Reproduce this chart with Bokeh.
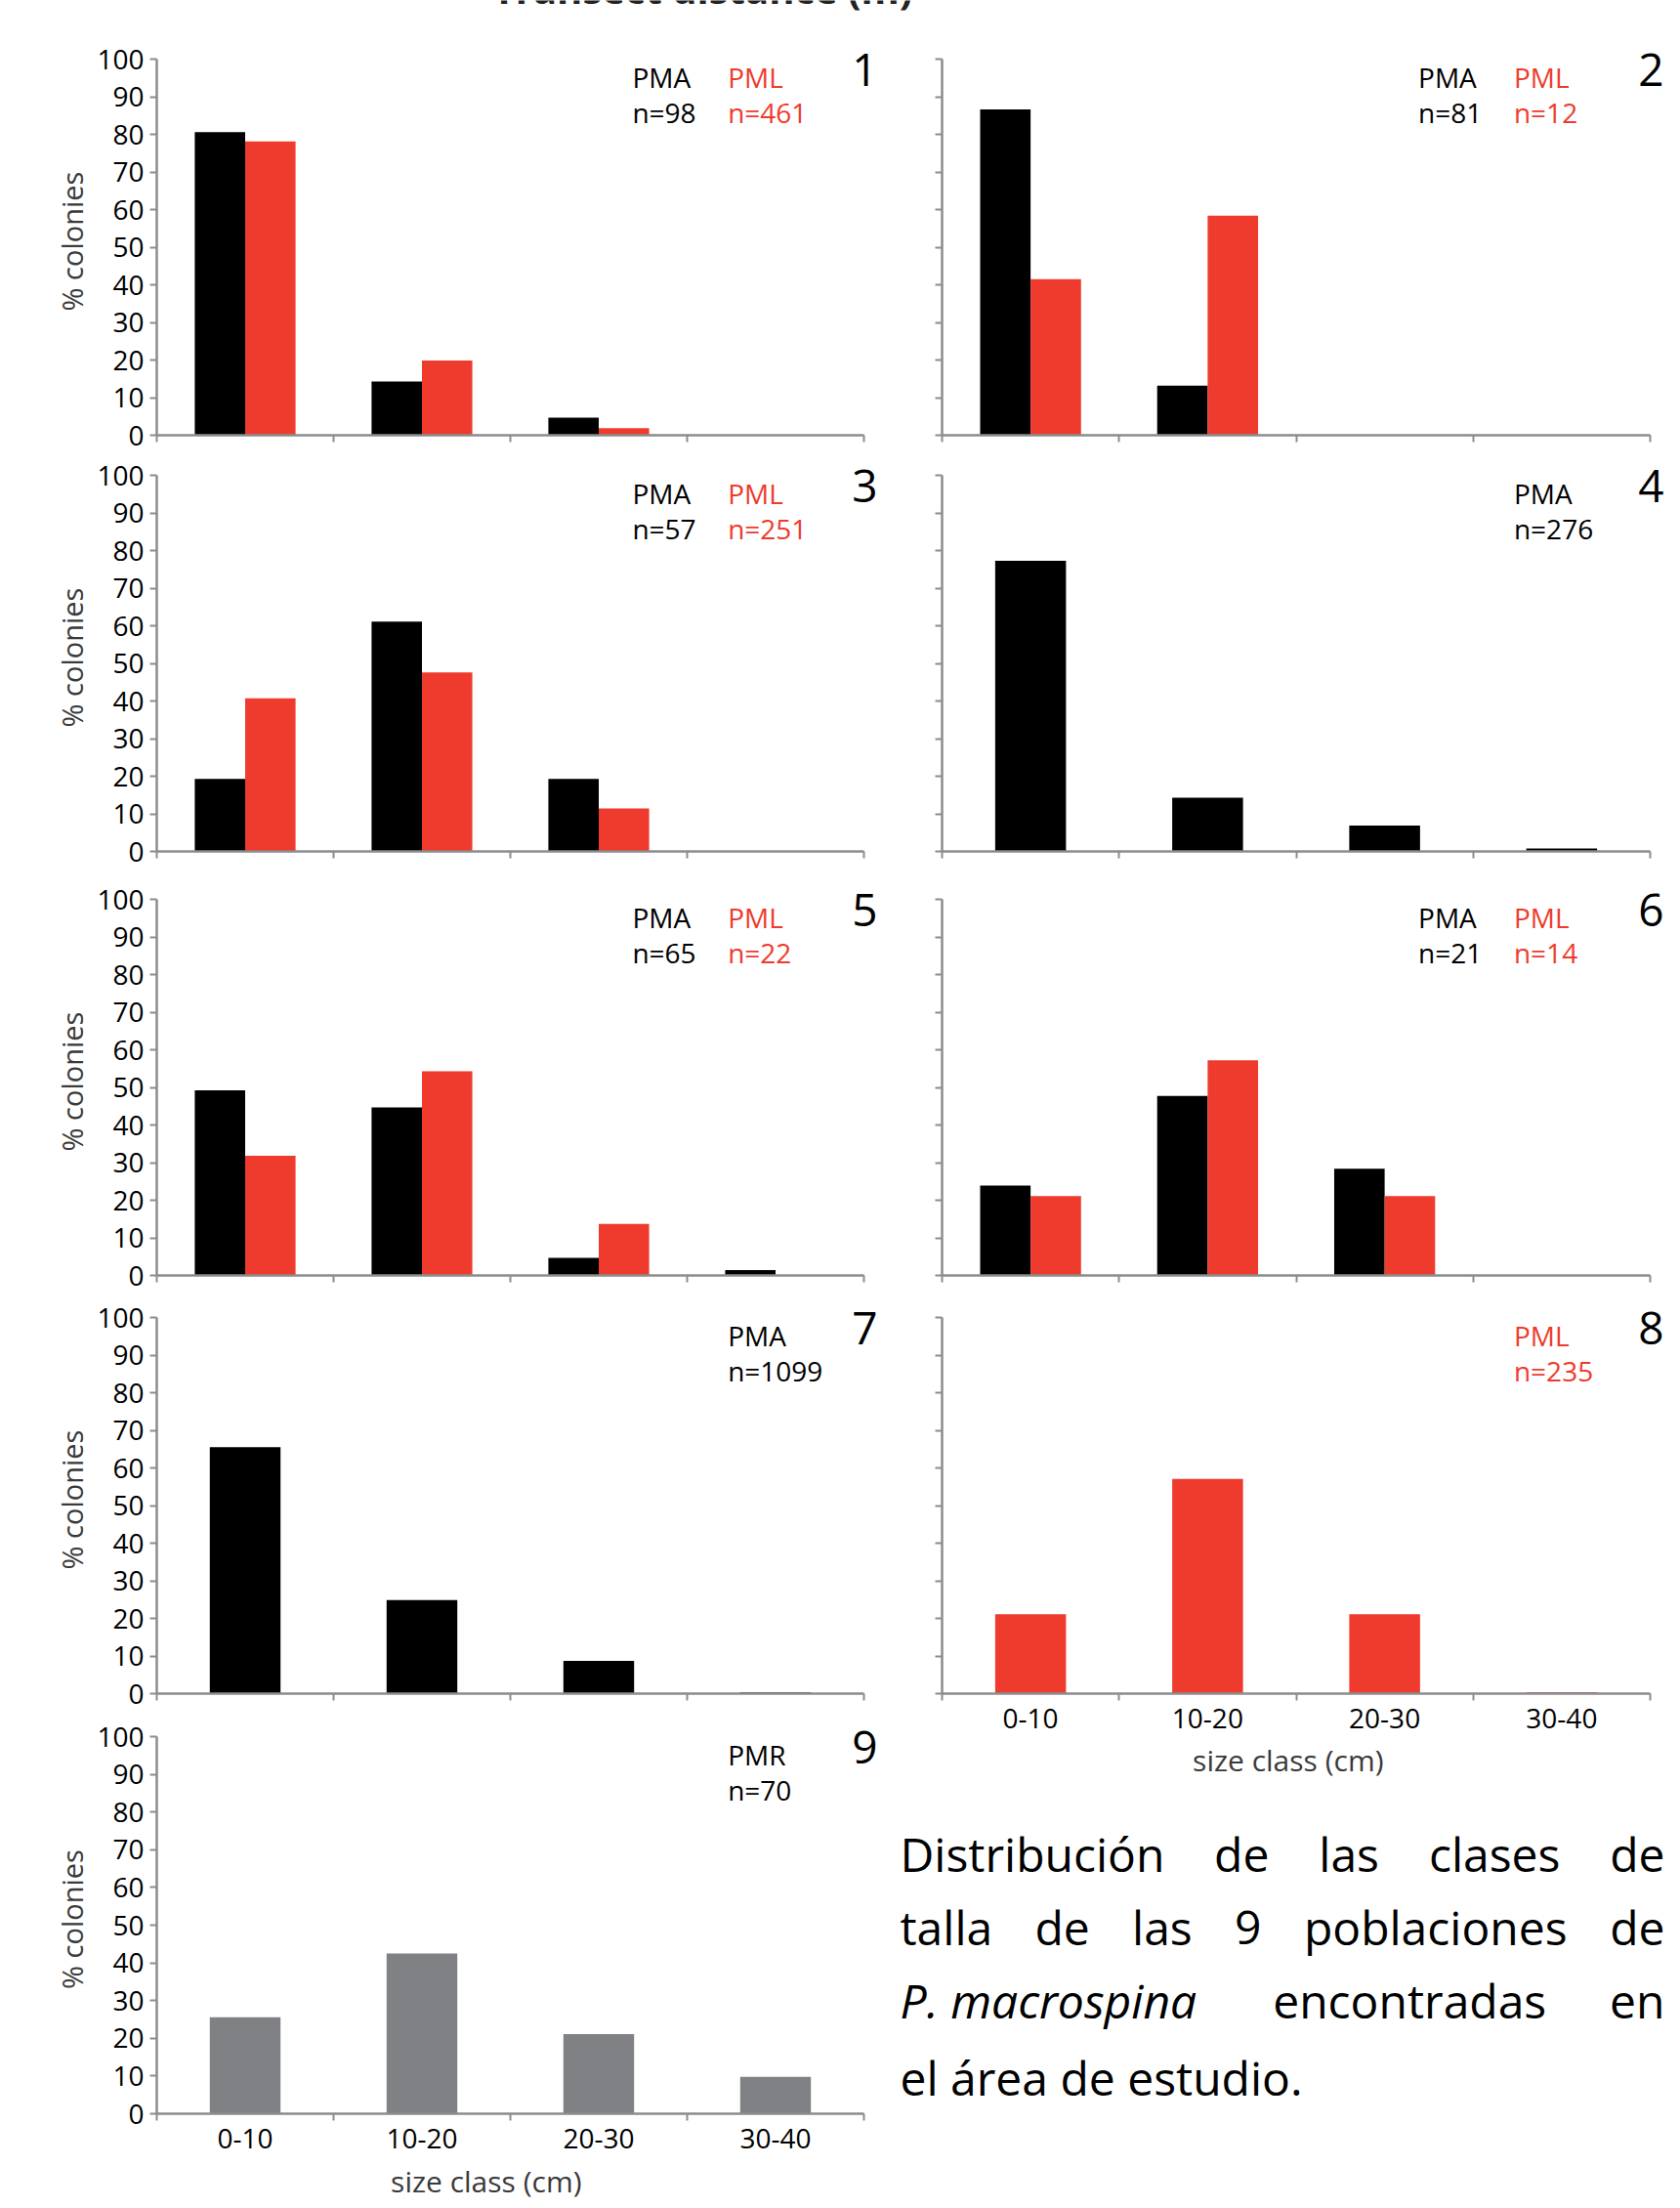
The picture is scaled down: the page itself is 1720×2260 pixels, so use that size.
import numpy as np
from bokeh.plotting import figure
from bokeh.models import Range1d, LinearAxis, FixedTicker, Label, ColumnDataSource, Title
from bokeh.layouts import row, column
from bokeh.transform import dodge
from bokeh.embed import file_html
from bokeh.resources import INLINE

# ---------------- data ----------------
size_classes = ["0-10", "10-20", "20-30", "30-40"]
y_ticks = [0, 10, 20, 30, 40, 50, 60, 70, 80, 90, 100]

p1_pma = [80.6, 14.3, 4.7, 0.0]
p1_pml = [78.1, 19.9, 1.9, 0.0]
p2_pma = [86.6, 13.2, 0.0, 0.0]
p2_pml = [41.5, 58.4, 0.0, 0.0]
p3_pma = [19.3, 61.1, 19.3, 0.0]
p3_pml = [40.7, 47.6, 11.4, 0.0]
p4_pma = [77.3, 14.3, 6.9, 0.8]
p5_pma = [49.2, 44.7, 4.7, 1.4]
p5_pml = [31.8, 54.3, 13.7, 0.0]
p6_pma = [23.9, 47.7, 28.4, 0.0]
p6_pml = [21.1, 57.2, 21.1, 0.0]
p7_pma = [65.5, 24.9, 8.7, 0.3]
p8_pml = [21.1, 57.1, 21.1, 0.4]
p9_pmr = [25.6, 42.5, 21.1, 9.8]

n_labels = {1: ("n=98", "n=461"), 2: ("n=81", "n=12"), 3: ("n=57", "n=251"),
            4: ("n=276",), 5: ("n=65", "n=22"), 6: ("n=21", "n=14"),
            7: ("n=1099",), 8: ("n=235",), 9: ("n=70",)}

caption_lines = [
    ["Distribución", "de", "las", "clases", "de"],
    ["talla", "de", "las", "9", "poblaciones", "de"],
    ["P. macrospina", "encontradas", "en"],
    ["el área de estudio."],
]

# ---------------- style ----------------
FONT = "Open Sans"
BLACK = "#000000"
RED = "#EE3B2E"
GREY = "#808184"
AXIS = "#8C8C8E"
TITLE_C = "#3A3A3A"
K = 0.39    # baseline correction for Label text (fraction of font size)
XT_FS = 30  # x-axis title font size
TICK_FS = "28px"

centers = [i + 0.5 for i in range(len(size_classes))]
bounds = [float(i) for i in range(len(size_classes) + 1)]


def no_align(p):
    if "frame_align" in p.properties():
        p.frame_align = False


def make_panel(num, series, w, h, bl, br_ext, bt, bb, ylab, xlab, top_ext=12,
               title_left=None, title_standoff=0):
    fw = w - bl - br_ext          # width of the 0..4 part of the frame
    unit = fw / 4.0
    fh = h - bt - bb
    ppu = fh / 100.0
    p = figure(width=w, height=h,
               x_range=Range1d(0, 4 + br_ext / unit),
               y_range=Range1d(0, 100 + top_ext / ppu),
               output_backend="svg", toolbar_location=None, title=None,
               x_axis_type=None, y_axis_type=None,
               min_border_left=bl, min_border_right=0,
               min_border_top=bt - top_ext, min_border_bottom=bb)
    no_align(p)
    p.outline_line_color = None

    # y axis
    yt = FixedTicker(ticks=y_ticks) if ylab else FixedTicker(ticks=[], minor_ticks=y_ticks)
    yax = LinearAxis(ticker=yt, bounds=(0, 100), axis_line_color=AXIS, axis_line_width=2.5,
                     major_tick_line_color=AXIS, major_tick_line_width=2,
                     major_tick_out=7, major_tick_in=0,
                     minor_tick_line_color=AXIS, minor_tick_line_width=2,
                     minor_tick_out=7, minor_tick_in=0,
                     major_label_text_font=FONT, major_label_text_font_size=TICK_FS,
                     major_label_text_color=BLACK, major_label_standoff=6)
    if ylab:
        yax.axis_label = "% colonies"
        yax.axis_label_text_font = FONT
        yax.axis_label_text_font_size = "29px"
        yax.axis_label_text_font_style = "normal"
        yax.axis_label_text_color = TITLE_C
        yax.axis_label_standoff = 3
    p.add_layout(yax, "left")

    # x axis (ticks at class boundaries, labels at class centres)
    xt = FixedTicker(ticks=centers if xlab else [], minor_ticks=bounds)
    xax = LinearAxis(ticker=xt, bounds=(0, 4), axis_line_color=AXIS, axis_line_width=2.5,
                     major_tick_line_color=None, major_tick_out=7, major_tick_in=0,
                     minor_tick_line_color=AXIS, minor_tick_line_width=2,
                     minor_tick_out=7, minor_tick_in=0,
                     major_label_overrides={c: s for c, s in zip(centers, size_classes)},
                     major_label_text_font=FONT, major_label_text_font_size=TICK_FS,
                     major_label_text_color=BLACK, major_label_standoff=8)
    p.add_layout(xax, "below")

    if title_left is not None:
        p.add_layout(Title(text="size class (cm)", align="left", offset=title_left - bl,
                           vertical_align="bottom", standoff=title_standoff,
                           text_font=FONT, text_font_size=f"{XT_FS}px",
                           text_font_style="normal", text_color=TITLE_C), "below")

    # bars
    data = {"x": centers}
    for name, vals, col in series:
        data[name] = vals
    src = ColumnDataSource(data)
    if len(series) == 2:
        bw = 0.285
        offs = [-bw / 2, bw / 2]
    else:
        bw = 0.4
        offs = [0.0]
    for (name, vals, col), off in zip(series, offs):
        p.vbar(x=dodge("x", off), top=name, width=bw, bottom=0, source=src,
               fill_color=col, line_color=None)

    # population / n labels and panel number
    y1 = 100 - (29 - K * 28) / ppu
    y2 = 100 - (65 - K * 28) / ppu
    yn = 100 - (29 - K * 46) / ppu
    xs = [2.69, 3.23] if len(series) == 2 else [3.23]
    for (name, vals, col), xx, nl in zip(series, xs, n_labels[num]):
        tc = RED if col == RED else BLACK
        p.add_layout(Label(x=xx, y=y1, text=name, text_font=FONT, text_font_size="28px",
                           text_color=tc, text_baseline="alphabetic", text_align="left"))
        p.add_layout(Label(x=xx, y=y2, text=nl, text_font=FONT, text_font_size="28px",
                           text_color=tc, text_baseline="alphabetic", text_align="left"))
    p.add_layout(Label(x=4.0 + 1 / unit, y=yn, text=str(num), text_font=FONT,
                       text_font_size="46px", text_color=BLACK,
                       text_baseline="alphabetic", text_align="center"))
    return p


W_ALL = 1720
TOPH = 12            # thin strip holding the cut-off heading
LW, RW = 920, 800
# (height, frame top border, frame bottom border) per row
left_rows = [(465 - TOPH, 60 - TOPH, 20), (430, 21, 24), (431, 25, 21), (429, 22, 22), (505, 22, 97)]
right_rows = [(465 - TOPH, 60 - TOPH, 20), (430, 21, 24), (431, 25, 21), (504, 22, 97)]
LB, LR = 160, 36
RB, RR = 44, 31
XT_W = 6.56 * XT_FS   # approx. width of "size class (cm)"

p1 = make_panel(1, [("PMA", p1_pma, BLACK), ("PML", p1_pml, RED)], LW, left_rows[0][0], LB, LR,
                left_rows[0][1], left_rows[0][2], True, False)
p3 = make_panel(3, [("PMA", p3_pma, BLACK), ("PML", p3_pml, RED)], LW, left_rows[1][0], LB, LR,
                left_rows[1][1], left_rows[1][2], True, False)
p5 = make_panel(5, [("PMA", p5_pma, BLACK), ("PML", p5_pml, RED)], LW, left_rows[2][0], LB, LR,
                left_rows[2][1], left_rows[2][2], True, False)
p7 = make_panel(7, [("PMA", p7_pma, BLACK)], LW, left_rows[3][0], LB, LR,
                left_rows[3][1], left_rows[3][2], True, False)
p9 = make_panel(9, [("PMR", p9_pmr, GREY)], LW, left_rows[4][0], LB, LR,
                left_rows[4][1], left_rows[4][2], True, True,
                title_left=498 - XT_W / 2, title_standoff=16)

p2 = make_panel(2, [("PMA", p2_pma, BLACK), ("PML", p2_pml, RED)], RW, right_rows[0][0], RB, RR,
                right_rows[0][1], right_rows[0][2], False, False)
p4 = make_panel(4, [("PMA", p4_pma, BLACK)], RW, right_rows[1][0], RB, RR,
                right_rows[1][1], right_rows[1][2], False, False)
p6 = make_panel(6, [("PMA", p6_pma, BLACK), ("PML", p6_pml, RED)], RW, right_rows[2][0], RB, RR,
                right_rows[2][1], right_rows[2][2], False, False)
p8 = make_panel(8, [("PML", p8_pml, RED)], RW, right_rows[3][0], RB, RR,
                right_rows[3][1], right_rows[3][2], False, True,
                title_left=(1319 - 920) - XT_W / 2, title_standoff=15)

# ---------------- thin top strip: heading cut by the page edge ----------------
tt = figure(width=W_ALL, height=TOPH, x_range=Range1d(0, W_ALL), y_range=Range1d(TOPH, 0),
            output_backend="svg", toolbar_location=None, title=None,
            x_axis_type=None, y_axis_type=None, min_border=0)
no_align(tt)
tt.outline_line_color = None
tt.xgrid.visible = False
tt.ygrid.visible = False
tt.add_layout(Label(x=719, y=4 - K * 40, text="Transect distance (m)", text_font=FONT,
                    text_font_size="40px", text_font_style="bold", text_color="#222222",
                    text_align="center", text_baseline="alphabetic"))

# ---------------- caption ----------------
TH = 430
X_LEFT, TOP = 920, 1830
tf = figure(width=RW, height=TH, x_range=Range1d(X_LEFT, X_LEFT + RW),
            y_range=Range1d(TOP + TH, TOP),
            output_backend="svg", toolbar_location=None, title=None,
            x_axis_type=None, y_axis_type=None, min_border=0)
no_align(tf)
tf.outline_line_color = None
tf.xgrid.visible = False
tf.ygrid.visible = False

# approximate Open Sans advance widths (em) used to justify the lines
ADV = {" ": 0.260, "a": 0.556, "á": 0.556, "b": 0.613, "c": 0.476, "d": 0.613, "e": 0.561,
       "i": 0.253, "l": 0.253, "m": 0.930, "n": 0.614, "o": 0.604, "ó": 0.604, "p": 0.613,
       "r": 0.408, "s": 0.477, "t": 0.353, "u": 0.614, "D": 0.722, "P": 0.586, ".": 0.266,
       "9": 0.572}
CF = 48
line_base = [1916, 1991, 2066, 2145]
L_EDGE, R_EDGE = 921, 1704
for li, (words, base) in enumerate(zip(caption_lines, line_base)):
    widths = [CF * sum(ADV.get(ch, 0.55) for ch in wd) for wd in words]
    if li < len(caption_lines) - 1 and len(words) > 1:
        gap = (R_EDGE - L_EDGE - sum(widths)) / (len(words) - 1)
    else:
        gap = CF * ADV[" "]
    xcur = L_EDGE
    for wd, ww in zip(words, widths):
        style = "italic" if wd.startswith("P.") else "normal"
        tf.add_layout(Label(x=xcur, y=base - K * CF, text=wd, text_font=FONT,
                            text_font_size=f"{CF}px", text_font_style=style,
                            text_color=BLACK, text_align="left", text_baseline="alphabetic"))
        xcur += ww + gap

left_col = column(p1, p3, p5, p7, p9, spacing=0)
right_col = column(p2, p4, p6, p8, tf, spacing=0)
root = column(tt, row(left_col, right_col, spacing=0), spacing=0)

open("out.html", "w").write(file_html(root, INLINE))
